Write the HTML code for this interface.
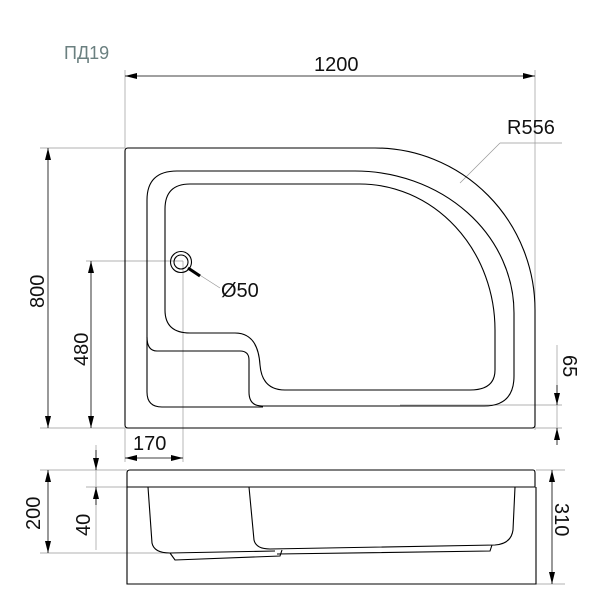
<!DOCTYPE html>
<html><head><meta charset="utf-8"><style>body{margin:0;background:#fff}svg{display:block}</style></head><body>
<svg width="600" height="600" viewBox="0 0 600 600" xmlns="http://www.w3.org/2000/svg" font-family="Liberation Sans, sans-serif">
<defs>
<marker id="a" markerWidth="12" markerHeight="6" refX="12" refY="3" orient="auto" markerUnits="userSpaceOnUse"><path d="M0,0 L12,3 L0,6 Z" fill="#000"/></marker>
</defs>
<g stroke="#999" stroke-width="0.7" fill="none">
<line x1="125" y1="70" x2="125" y2="148"/>
<line x1="535" y1="70" x2="535" y2="430"/>
<line x1="40" y1="148" x2="125" y2="148"/>
<line x1="40" y1="428" x2="125" y2="428"/>
<line x1="86" y1="261" x2="183" y2="261"/>
<line x1="183" y1="261" x2="183" y2="462"/>
<line x1="125" y1="428" x2="125" y2="462"/>
<line x1="400" y1="405" x2="562" y2="405"/>
<line x1="535" y1="428" x2="562" y2="428"/>
<line x1="557" y1="345" x2="557" y2="438"/>
<line x1="460" y1="183" x2="500" y2="143"/>
<line x1="500" y1="143" x2="562" y2="143"/>
<line x1="195" y1="272" x2="220" y2="288"/>
<line x1="96" y1="445" x2="96" y2="550"/>
<line x1="40" y1="470" x2="127" y2="470"/>
<line x1="86" y1="487" x2="127" y2="487"/>
<line x1="40" y1="553" x2="170" y2="553"/>
<line x1="536" y1="470" x2="565" y2="470"/>
<line x1="536" y1="584" x2="565" y2="584"/>
</g>
<g stroke="#000" stroke-width="0.8" fill="none">
<line x1="330" y1="76" x2="125" y2="76" marker-end="url(#a)"/>
<line x1="330" y1="76" x2="535" y2="76" marker-end="url(#a)"/>
<line x1="48" y1="288" x2="48" y2="148" marker-end="url(#a)"/>
<line x1="48" y1="288" x2="48" y2="428" marker-end="url(#a)"/>
<line x1="91" y1="345" x2="91" y2="261" marker-end="url(#a)"/>
<line x1="91" y1="345" x2="91" y2="428" marker-end="url(#a)"/>
<line x1="154" y1="458" x2="125" y2="458" marker-end="url(#a)"/>
<line x1="154" y1="458" x2="183" y2="458" marker-end="url(#a)"/>
<line x1="557" y1="385" x2="557" y2="405" marker-end="url(#a)"/>
<line x1="557" y1="445" x2="557" y2="428" marker-end="url(#a)"/>
<line x1="96" y1="450" x2="96" y2="470" marker-end="url(#a)"/>
<line x1="96" y1="505" x2="96" y2="487" marker-end="url(#a)"/>
<line x1="48" y1="510" x2="48" y2="470" marker-end="url(#a)"/>
<line x1="48" y1="510" x2="48" y2="553" marker-end="url(#a)"/>
<line x1="552" y1="527" x2="552" y2="470" marker-end="url(#a)"/>
<line x1="552" y1="527" x2="552" y2="584" marker-end="url(#a)"/>
<line x1="188" y1="268" x2="200" y2="276" stroke-width="3"/>
</g>
<g stroke="#000" stroke-width="1.1" fill="none">
<path d="M128,148 H375 A160,162 0 0 1 535,310 V425 Q535,428 532,428 H128 Q125,428 125,425 V151 Q125,148 128,148 Z"/>
<path d="M177,171 H355 A159,142 0 0 1 514,313 V376 Q514,406 484,406 H262 Q249,406 249,392 V360 Q249,351 240,351 H157 Q147,351 147,337"/>
<path d="M147,337 V200 Q147,171 177,171"/>
<path d="M147,337 V392 Q147,407 162,407 H263"/>
<path d="M190,184 H360 A135,146 0 0 1 495,330 V370 Q495,390 470,390 H285 Q262,390 260,365 Q258,333 235,333 H190 Q165,333 165,310 V209 Q165,184 190,184 Z"/>
<circle cx="181" cy="262" r="10.5"/>
<circle cx="181" cy="262" r="7"/>
<path d="M130,470 H533 Q535,470 535,473 V487 H127 V473 Q127,470 130,470 Z"/>
<path d="M127,487 V584 H536 V487"/>
<path d="M148,487 L152,543 Q154,553 170,553 L275,551"/>
<path d="M249,487 L254,540 Q256,549 270,549 L495,545 Q511,544 513,530 L515,487"/>
<path d="M170,553 L175,560 L280,556 L282,550"/>
<path d="M277,554 L490,551 L492,545"/>
</g>
<g font-size="20" fill="#111">
<text x="314" y="71">1200</text>
<text x="507" y="134">R556</text>
<text x="221" y="297">Ø50</text>
<text x="133" y="450">170</text>
<text transform="translate(44,308) rotate(-90)">800</text>
<text transform="translate(88,366) rotate(-90)">480</text>
<text transform="translate(563,355) rotate(90)">65</text>
<text transform="translate(40,530) rotate(-90)">200</text>
<text transform="translate(90,536) rotate(-90)">40</text>
<text transform="translate(555,503) rotate(90)">310</text>
</g>
<text x="64" y="59" font-size="18" fill="#6b8080" font-family="Liberation Sans, DejaVu Sans, sans-serif">ПД19</text>
</svg>
</body></html>
